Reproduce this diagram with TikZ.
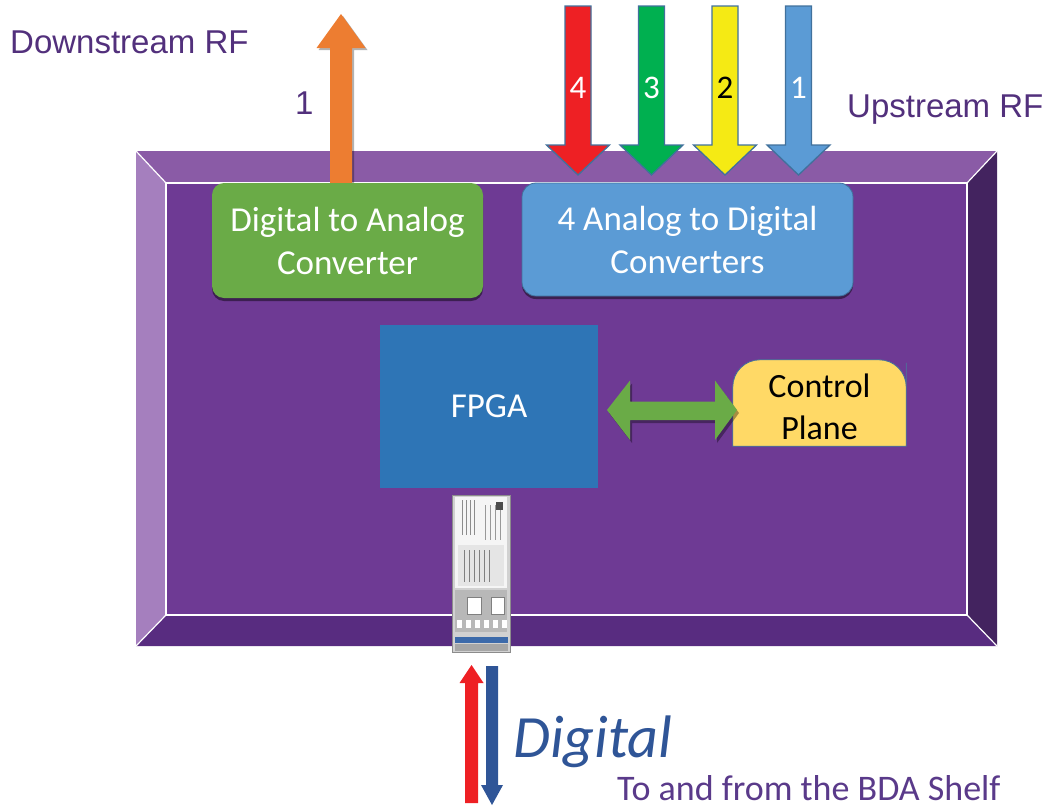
\documentclass[tikz,border=0pt]{standalone}
\usepackage{fontspec}
\setmainfont{Carlito}
\newfontfamily\arialfont{Liberation Sans}
\usetikzlibrary{shadows}
\definecolor{bevtop}{HTML}{8A5BA6}
\definecolor{bevleft}{HTML}{A57FBE}
\definecolor{bevright}{HTML}{43235F}
\definecolor{bevbot}{HTML}{582C80}
\definecolor{framebg}{HTML}{6E3A94}
\definecolor{dacgreen}{HTML}{6AAB47}
\definecolor{adcblue}{HTML}{5B9BD5}
\definecolor{fpgablue}{HTML}{2E75B6}
\definecolor{cpyellow}{HTML}{FFD966}
\definecolor{outlineblue}{HTML}{41719C}
\definecolor{orangearr}{HTML}{ED7D31}
\definecolor{redarr}{HTML}{EE2024}
\definecolor{greenarr}{HTML}{00B050}
\definecolor{yellowarr}{HTML}{F5EA14}
\definecolor{bluearr}{HTML}{5B9BD5}
\definecolor{navyarr}{HTML}{2F5597}
\definecolor{dblgreen}{HTML}{6AAB47}
\definecolor{labelpurple}{HTML}{52307C}
\definecolor{shelfpurple}{HTML}{5A3A8A}
\tikzset{
  boxtext/.style={font=\fontsize{35}{43}\selectfont, text=white, align=center, inner sep=0pt},
  boxshadow/.style={drop shadow={shadow xshift=0pt, shadow yshift=-3pt, opacity=0.45, fill=black}},
  dacbox/.style={boxtext, fill=dacgreen, rounded corners=12pt, minimum width=271pt, minimum height=115pt, boxshadow},
  adcbox/.style={boxtext, fill=adcblue, draw=outlineblue, line width=0.8pt, rounded corners=14pt, minimum width=331pt, minimum height=113pt, boxshadow},
  fpgabox/.style={boxtext, fill=fpgablue, minimum width=218pt, minimum height=163pt},
  cpbox/.style={minimum width=173pt, minimum height=86pt, inner sep=0pt},
  cpshape/.style={fill=cpyellow, draw=outlineblue, line width=0.8pt},
  cptext/.style={font=\fontsize{34}{42}\selectfont, text=black, align=center, inner sep=0pt},
  inarrow/.style={draw=outlineblue, line width=1.3pt, line join=miter},
  numtext/.style={font=\fontsize{33}{40}\selectfont, inner sep=0pt, anchor=base},
  rflabel/.style={font=\arialfont\fontsize{33}{40}\selectfont, text=labelpurple, inner sep=0pt, anchor=base west},
  sfpbox/.style={fill=black!18, draw=black!45, line width=0.6pt, minimum width=58pt, minimum height=157pt, inner sep=0pt},
}
\begin{document}
\begin{tikzpicture}[x=1pt,y=-1pt]
\useasboundingbox (0,0) rectangle (1049,811);
% ---- bevelled frame
\fill[bevtop]   (136,151) -- (997,151) -- (967,183) -- (166,183) -- cycle;
\fill[bevleft]  (136,151) -- (166,183) -- (166,615) -- (136,646) -- cycle;
\fill[bevright] (997,151) -- (997,646) -- (967,615) -- (967,183) -- cycle;
\fill[bevbot]   (136,646) -- (997,646) -- (967,615) -- (166,615) -- cycle;
\fill[framebg]  (166,183) rectangle (967,615);
\draw[white, line width=2pt] (166,183) rectangle (967,615);
\draw[white, line width=1.2pt] (136,151) -- (166,183) (997,151) -- (967,183)
      (997,646) -- (967,615) (136,646) -- (166,615);
% ---- downstream (orange) arrow
\fill[orangearr, drop shadow={shadow xshift=2pt, shadow yshift=-2pt, opacity=0.3, fill=black}]
  (330,183) -- (330,48) -- (316.5,48) -- (341,14) -- (365.5,48) -- (352,48) -- (352,183) -- cycle;
% ---- upstream arrows
\foreach \cx/\col in {578/redarr, 651.5/greenarr, 725/yellowarr, 798.5/bluearr}{
  \filldraw[inarrow, fill=\col]
    (\cx-13,6) -- (\cx-13,145) -- (\cx-31.5,145) -- (\cx,175) -- (\cx+31.5,145) -- (\cx+13,145) -- (\cx+13,6) -- cycle;
}
\node[numtext, text=white] (n4) at (578,98) {4};
\node[numtext, text=white] (n3) at (651.5,98) {3};
\node[numtext, text=black] (n2) at (725,98) {2};
\node[numtext, text=white] (n1) at (798.5,98) {1};
% ---- boxes
\node[dacbox]  (dac)  at (347.5,240.5) {Digital to Analog\\Converter};
\node[adcbox]  (adc)  at (687.5,239.5) {4 Analog to Digital\\Converters};
\node[fpgabox] (fpga) at (489,406.5)  {FPGA};
\node[cpbox]   (cp)   at (819.5,403)  {};
\draw[cpshape] (cp.south west) -- ([yshift=-30pt]cp.north west) [rounded corners=27pt] -- (cp.north west)
   -- (cp.north east) -- ([yshift=-30pt]cp.north east) [sharp corners] -- (cp.south east) -- cycle;
\node[cptext] (cptext) at ([yshift=-4pt]cp.center) {Control\\Plane};
% ---- double arrow FPGA <-> Control Plane
\fill[dblgreen, drop shadow={shadow xshift=2pt, shadow yshift=-3pt, opacity=0.35, fill=black}]
  (607,410) -- (630,380.5) -- (630,401.5) -- (715,401.5) -- (715,380.5) -- (737,410)
  -- (715,440) -- (715,420) -- (630,420) -- (630,440) -- cycle;
% ---- SFP transceiver
\node[sfpbox] (sfp) at (481,573.5) {};
\fill[black!4] (455,497) rectangle (507,588);
\fill[black!10] (458,545) rectangle (504,586);
\foreach \lx in {462,466,470,474}{ \draw[black!45, line width=0.9pt] (\lx,500) -- (\lx,535); }
\foreach \lx in {485,490,495,500}{ \draw[black!40, line width=0.9pt] (\lx,505) -- (\lx,540); }
\foreach \lx in {464,469,474,479,484,489}{ \draw[black!50, line width=0.9pt] (\lx,550) -- (\lx,582); }
\fill[black!70] (496,502) rectangle (503,510);
\fill[black!28] (455,590) rectangle (507,632);
\filldraw[fill=white, draw=black!50, line width=0.6pt] (467,597) rectangle (481,614);
\filldraw[fill=white, draw=black!50, line width=0.6pt] (491,597) rectangle (504,614);
\foreach \bx in {457,466,475,484,493,502}{ \fill[white] (\bx,620) rectangle (\bx+5,628); }
\fill[navyarr!70!adcblue] (455,637) rectangle (508,643);
\fill[black!35] (455,644) rectangle (508,651);
% ---- digital link arrows
\coordinate (redbot) at (471.5,803);
\coordinate (bluebot) at (492,805);
\fill[redarr] (465,803) -- (465,683) -- (459.5,683) -- (471.5,665) -- (483.5,683) -- (478,683) -- (478,803) -- cycle;
\fill[navyarr] (486,666) -- (486,785) -- (481,785) -- (492,805) -- (503,785) -- (498,785) -- (498,666) -- cycle;
% ---- labels
\node[rflabel] (down) at (10,53)  {Downstream RF};
\node[rflabel] (up)   at (847,117) {Upstream RF};
\node[rflabel] (one)  at (295,114) {1};
\node[font=\fontsize{60}{70}\selectfont\itshape, text=navyarr, inner sep=0pt, anchor=base west] (digital) at (513,757) {Digital};
\node[font=\fontsize{36}{42}\selectfont, text=shelfpurple, inner sep=0pt, anchor=base west] (shelf) at (617,800) {To and from the BDA Shelf};
\end{tikzpicture}
\end{document}
